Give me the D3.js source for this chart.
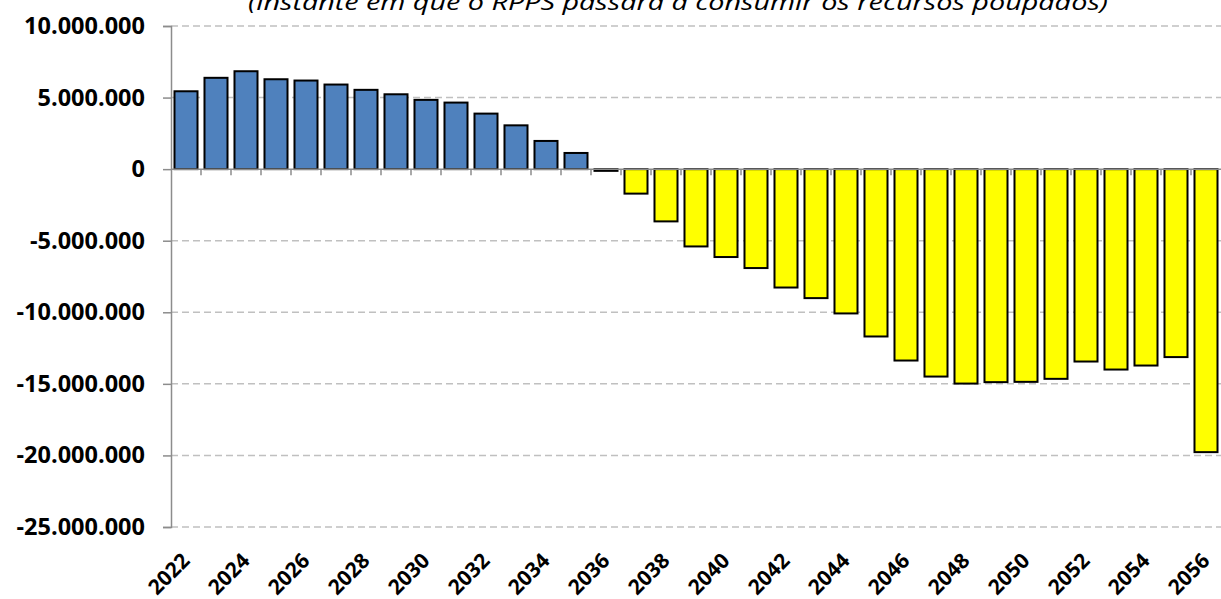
<!DOCTYPE html>
<html>
<head>
<meta charset="utf-8">
<script src="https://cdn.jsdelivr.net/npm/d3@7"></script>
<style>
  html, body { margin: 0; padding: 0; background: #fff; }
  svg { display: block; }
</style>
</head>
<body>
<svg id="chart" width="1221" height="599"></svg>
<script>
const years = d3.range(2022, 2057).map(String);
const values = [
  5440000, 6380000, 6840000, 6280000, 6190000, 5910000, 5540000, 5230000, 4840000, 4650000,
  3880000, 3060000, 1970000, 1130000, -120000, -1710000, -3650000, -5400000, -6140000, -6910000,
  -8270000, -9010000, -10080000, -11690000, -13370000, -14490000, -14980000, -14880000, -14860000, -14650000,
  -13440000, -14000000, -13720000, -13130000, -19770000
];
const yTicks = [10000000, 5000000, 0, -5000000, -10000000, -15000000, -20000000, -25000000];
const xLabelYears = years.filter((d, i) => i % 2 === 0);
const title = "(instante em que o RPPS passará a consumir os recursos poupados)";

const svg = d3.select("#chart");
const mLeft = 171, mRight = 1221, mTop = 26, mBottom = 527;

const x = d3.scaleBand().domain(years).range([mLeft, mRight]).paddingInner(0.233).paddingOuter(0.1165);
const y = d3.scaleLinear().domain([-25000000, 10000000]).range([mBottom, mTop]);
const fmt = v => d3.format(",")(v).replace(/,/g, ".").replace("−", "-");

// title (partially cut at top, as in the reference)
svg.append("text")
  .attr("x", 678).attr("y", 10)
  .attr("text-anchor", "middle")
  .attr("font-family", "'Open Sans', sans-serif")
  .attr("font-style", "italic")
  .attr("font-size", 22)
  .attr("textLength", 860)
  .attr("lengthAdjust", "spacingAndGlyphs")
  .attr("fill", "#000")
  .text(title);

// gridlines
svg.append("g").selectAll("line")
  .data(yTicks.filter(v => v !== 0))
  .join("line")
  .attr("x1", mLeft).attr("x2", mRight)
  .attr("y1", d => y(d)).attr("y2", d => y(d))
  .attr("stroke", "#c0c0c0")
  .attr("stroke-width", 1.5)
  .attr("stroke-dasharray", "7,4");

// y axis
const yAxis = d3.axisLeft(y).tickValues(yTicks).tickSize(8).tickPadding(18).tickFormat(fmt);
const gy = svg.append("g").attr("transform", `translate(${mLeft},0)`).call(yAxis);
gy.select(".domain").attr("stroke", "#8c8c8c").attr("stroke-width", 1.5);
gy.selectAll(".tick line").attr("stroke", "#8c8c8c").attr("stroke-width", 1.5);
gy.selectAll(".tick text")
  .attr("font-family", "'Open Sans', sans-serif")
  .attr("font-weight", "bold")
  .attr("font-size", 23.5)
  .attr("fill", "#000");

// bars
svg.append("g").selectAll("rect")
  .data(years.map((yr, i) => ({yr, v: values[i]})))
  .join("rect")
  .attr("x", d => x(d.yr))
  .attr("width", x.bandwidth())
  .attr("y", d => y(Math.max(0, d.v)))
  .attr("height", d => Math.abs(y(d.v) - y(0)))
  .attr("fill", d => d.v >= 0 ? "#4f81bd" : "#ffff00")
  .attr("stroke", "#000")
  .attr("stroke-width", 2);

// zero axis line with category-boundary ticks
const gx = svg.append("g");
gx.append("line")
  .attr("x1", mLeft).attr("x2", mRight)
  .attr("y1", y(0)).attr("y2", y(0))
  .attr("stroke", "#8c8c8c").attr("stroke-width", 1.5);
gx.selectAll("line.tk")
  .data(years.slice(1))
  .join("line")
  .attr("class", "tk")
  .attr("x1", d => x(d) - x.step() * x.paddingInner() / 2)
  .attr("x2", d => x(d) - x.step() * x.paddingInner() / 2)
  .attr("y1", y(0)).attr("y2", y(0) + 6)
  .attr("stroke", "#8c8c8c").attr("stroke-width", 1.5);

// x labels
svg.append("g").selectAll("text")
  .data(xLabelYears)
  .join("text")
  .attr("transform", d => `translate(${x(d) + x.bandwidth() / 2 + 5},${562}) rotate(-45)`)
  .attr("text-anchor", "end")
  .attr("font-family", "'Open Sans', sans-serif")
  .attr("font-weight", "bold")
  .attr("font-size", 21)
  .attr("fill", "#000")
  .text(d => d);
</script>
</body>
</html>
